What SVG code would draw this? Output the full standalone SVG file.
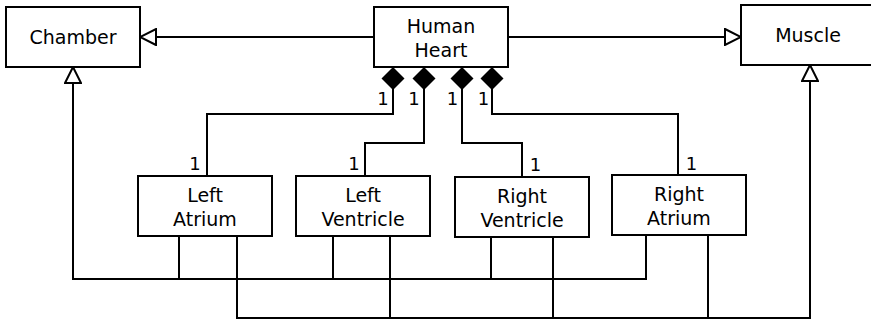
<svg xmlns="http://www.w3.org/2000/svg" width="871" height="320" viewBox="0 0 871 320">
<defs>
<style>
.box{fill:#fff;stroke:#000;stroke-width:2}
.t{font-family:"DejaVu Sans","Liberation Sans",sans-serif;font-size:19px;fill:#000;text-anchor:middle}
.m{font-family:"DejaVu Sans","Liberation Sans",sans-serif;font-size:18px;fill:#000;text-anchor:middle}
.c{fill:none;stroke:#000;stroke-width:2}
.gen{marker-end:url(#tri)}
.comp{marker-start:url(#dia)}
</style>
<marker id="tri" viewBox="0 0 18 18" refX="17" refY="9" markerWidth="18" markerHeight="18" markerUnits="userSpaceOnUse" orient="auto">
<path d="M1,1 L17,9 L1,17 Z" fill="#fff" stroke="#000" stroke-width="2"/>
</marker>
<marker id="dia" viewBox="0 0 24 24" refX="0" refY="12" markerWidth="24" markerHeight="24" markerUnits="userSpaceOnUse" orient="auto">
<path d="M0,12 L11.5,0.5 L23,12 L11.5,23.5 Z" fill="#000"/>
</marker>
</defs>
<rect width="871" height="320" fill="#fff"/>
<g id="connectors">
<path class="c gen" d="M374,37 H140"/>
<path class="c gen" d="M508,37 H741"/>
<path class="c comp" d="M393,67 V114 H207 V176"/>
<path class="c comp" d="M424,67 V143 H365 V176"/>
<path class="c comp" d="M462,67 V143 H522 V177"/>
<path class="c comp" d="M492,67 V114 H678 V175"/>
<path class="c gen" d="M646,235 V279 H73 V67"/>
<path class="c" d="M179,236 V279 M333,236 V279 M491,237 V279"/>
<path class="c gen" d="M237,236 V318 H810 V65"/>
<path class="c" d="M390,236 V318 M553,237 V318 M708,235 V318"/>
<text class="m" x="383" y="105">1</text>
<text class="m" x="414" y="105">1</text>
<text class="m" x="452.5" y="105">1</text>
<text class="m" x="483.5" y="105">1</text>
<text class="m" x="195" y="170">1</text>
<text class="m" x="354" y="170">1</text>
<text class="m" x="535.5" y="170.5">1</text>
<text class="m" x="691.5" y="170">1</text>
</g>
<g id="chamber"><rect class="box" x="6" y="7" width="134" height="60"/><text class="t" x="73" y="44">Chamber</text></g>
<g id="human-heart"><rect class="box" x="374" y="7" width="134" height="60"/><text class="t" x="441" y="33">Human</text><text class="t" x="441" y="57">Heart</text></g>
<g id="muscle"><rect class="box" x="741" y="5" width="134" height="60"/><text class="t" x="808" y="42">Muscle</text></g>
<g id="left-atrium"><rect class="box" x="138" y="176" width="134" height="60"/><text class="t" x="205" y="202">Left</text><text class="t" x="205" y="226">Atrium</text></g>
<g id="left-ventricle"><rect class="box" x="296" y="176" width="134" height="60"/><text class="t" x="363" y="202">Left</text><text class="t" x="363" y="226">Ventricle</text></g>
<g id="right-ventricle"><rect class="box" x="455" y="177" width="134" height="60"/><text class="t" x="522" y="203">Right</text><text class="t" x="522" y="227">Ventricle</text></g>
<g id="right-atrium"><rect class="box" x="612" y="175" width="134" height="60"/><text class="t" x="679" y="201">Right</text><text class="t" x="679" y="225">Atrium</text></g>
</svg>
